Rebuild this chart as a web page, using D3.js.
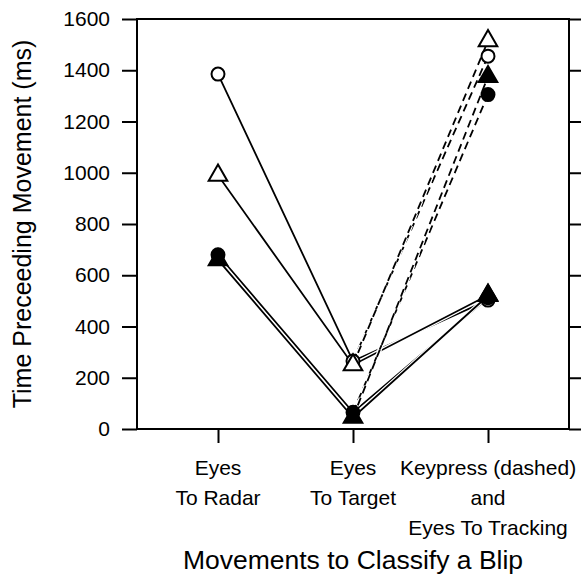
<!DOCTYPE html>
<html><head><meta charset="utf-8">
<script src="https://cdn.jsdelivr.net/npm/d3@7"></script>
<style>
html,body{margin:0;padding:0;background:#fff;}
svg{display:block;}
text{font-family:"Liberation Sans",Arial,sans-serif;fill:#000;}
</style></head>
<body>
<script>
const categories = [["Eyes","To Radar"],["Eyes","To Target"],["Keypress (dashed)","and","Eyes To Tracking"]];
const catKeys = ["radar","target","tracking"];
const yTicks = [0,200,400,600,800,1000,1200,1400,1600];

// solid series: radar, target, tracking
const openCircle     = [1385, 265, 503];
const openTriangle   = [990, 250, 522];
const filledCircle   = [680, 65, 512];
const filledTriangle = [660, 45, 520];
// keypress values (dashed, from target)
const keypressOpenCircle = 1455;
const keypressOpenTriangle = 1515;
const keypressFilledCircle = 1305;
const keypressFilledTriangle = 1375;

const series = [
  {vals:openCircle, key:keypressOpenCircle, shape:"circle", fill:"#fff"},
  {vals:openTriangle, key:keypressOpenTriangle, shape:"triangle", fill:"#fff"},
  {vals:filledCircle, key:keypressFilledCircle, shape:"circle", fill:"#000"},
  {vals:filledTriangle, key:keypressFilledTriangle, shape:"triangle", fill:"#000"}
];

const W=581,H=576;
const L=137,R=569,T=19,B=429;
const svg=d3.select("body").append("svg").attr("width",W).attr("height",H);

const x=d3.scalePoint().domain(catKeys).range([L,R]).padding(0.6);
const y=d3.scaleLinear().domain([0,1600]).range([B,T]);

const sw=2;
svg.append("rect").attr("x",L).attr("y",T).attr("width",R-L).attr("height",B-T)
  .attr("fill","none").attr("stroke","#000").attr("stroke-width",sw);

const ya=svg.append("g").attr("transform",`translate(${L},0)`)
  .call(d3.axisLeft(y).tickValues(yTicks).tickSize(15).tickPadding(12).tickFormat(d3.format("d")));
ya.select(".domain").remove();
ya.selectAll(".tick line").attr("stroke","#000").attr("stroke-width",sw);
ya.selectAll(".tick text").attr("font-size",21).attr("font-family","Liberation Sans, Arial, sans-serif");

const yr=svg.append("g").attr("transform",`translate(${R},0)`)
  .call(d3.axisRight(y).tickValues(yTicks).tickSize(13).tickFormat(""));
yr.select(".domain").remove();
yr.selectAll(".tick line").attr("stroke","#000").attr("stroke-width",sw);

const xa=svg.append("g").attr("transform",`translate(0,${B})`)
  .call(d3.axisBottom(x).tickSize(14).tickFormat(""));
xa.select(".domain").remove();
xa.selectAll(".tick line").attr("stroke","#000").attr("stroke-width",sw);

catKeys.forEach((k,i)=>{
  const t=svg.append("text").attr("text-anchor","middle").attr("font-size",21)
    .attr("transform",`translate(${x(k)},0)`);
  categories[i].forEach((ln,j)=>{
    t.append("tspan").attr("x",0).attr("y",475+j*30).text(ln);
  });
});

svg.append("text").attr("text-anchor","middle").attr("font-size",26.5)
  .attr("x",353).attr("y",569).text("Movements to Classify a Blip");
svg.append("text").attr("text-anchor","middle").attr("font-size",25)
  .attr("transform",`translate(31,${(T+B)/2}) rotate(-90)`).text("Time Preceeding Movement (ms)");

const line=d3.line().x(d=>x(d[0])).y(d=>y(d[1]));
const gl=svg.append("g");
function draw(d,dash){
  gl.append("path").attr("d",d).attr("fill","none").attr("stroke","#fff").attr("stroke-width",4.2)
    .attr("stroke-dasharray",dash||null);
  gl.append("path").attr("d",d).attr("fill","none").attr("stroke","#000").attr("stroke-width",1.8)
    .attr("stroke-dasharray",dash||null);
}
series.forEach(s=>draw(line(catKeys.map((k,i)=>[k,s.vals[i]]))));
series.forEach(s=>draw(line([["target",s.vals[1]],["tracking",s.key]]),"8,5"));

const sym={circle:d3.symbol().type(d3.symbolCircle).size(Math.PI*42),
           triangle:d3.symbol().type(d3.symbolTriangle).size(150)};
const gm=svg.append("g");
series.forEach(s=>{
  const pts=catKeys.map((k,i)=>[k,s.vals[i]]).concat([["tracking",s.key]]);
  gm.selectAll(null).data(pts).enter().append("path")
    .attr("d",sym[s.shape]())
    .attr("transform",d=>`translate(${x(d[0])},${y(d[1])})`)
    .attr("fill",s.fill).attr("stroke","#000").attr("stroke-width",2);
});
</script>
</body></html>
